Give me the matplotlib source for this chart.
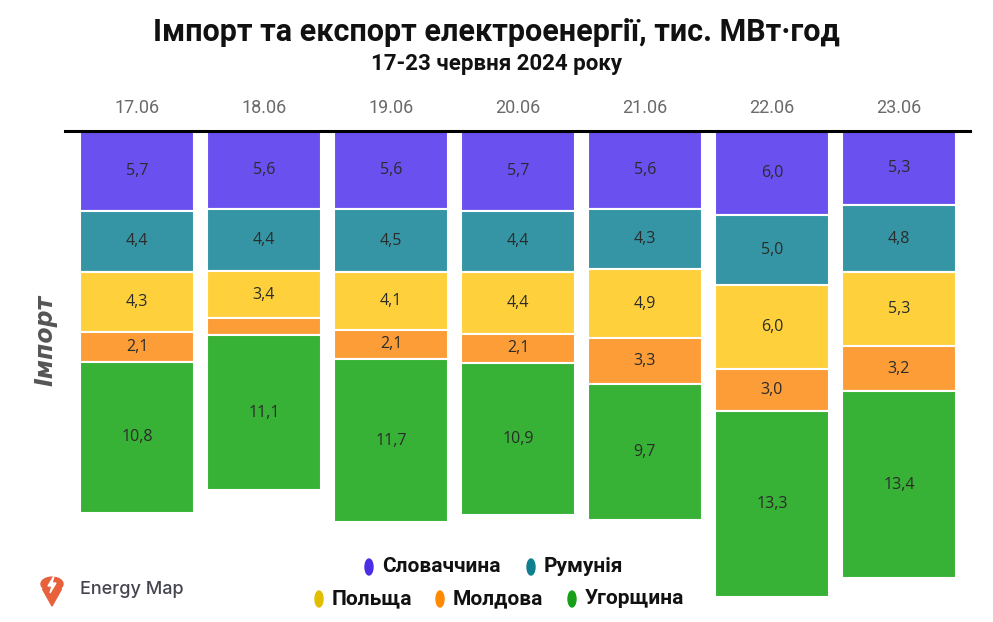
import matplotlib
matplotlib.use("Agg")
import matplotlib.pyplot as plt
from matplotlib.patches import Ellipse, Circle, Polygon

dates = ["17.06", "18.06", "19.06", "20.06", "21.06", "22.06", "23.06"]
countries = ["Словаччина", "Румунія", "Польща", "Молдова", "Угорщина"]
slovakia = [5.7, 5.6, 5.6, 5.7, 5.6, 6.0, 5.3]
romania = [4.4, 4.4, 4.5, 4.4, 4.3, 5.0, 4.8]
poland = [4.3, 3.4, 4.1, 4.4, 4.9, 6.0, 5.3]
moldova = [2.1, 1.2, 2.1, 2.1, 3.3, 3.0, 3.2]
hungary = [10.8, 11.1, 11.7, 10.9, 9.7, 13.3, 13.4]
series = [slovakia, romania, poland, moldova, hungary]

bar_colors = ["#6a50ef", "#3595a5", "#fed03b", "#fc9d37", "#37b136"]
legend_colors = ["#4a2ee6", "#0f7f8f", "#e3bd00", "#ff8a00", "#17a017"]

cond = "Roboto"
plt.rcParams["font.family"] = ["Open Sans", "DejaVu Sans"]

W, H = 993, 622
fig = plt.figure(figsize=(W / 100, H / 100), dpi=100)
fig.patch.set_facecolor("white")

def fx(px):
    return px / W

def fy(py):
    return 1 - py / H

ax = fig.add_axes([fx(65), fy(619), fx(970 - 65), (619 - 131) / H])
ymax = (619 - 131) / 13.98
ax.set_xlim(-0.567, 6.56)
ax.set_ylim(ymax, 0)
ax.axis("off")

x = list(range(len(dates)))
bottom = [0.0] * len(dates)
for vals, col in zip(series, bar_colors):
    ax.bar(x, vals, bottom=bottom, width=0.9, color=col, edgecolor="white",
           linewidth=1.5, align="center", zorder=2)
    for i, v in enumerate(vals):
        if v >= 1.5:
            ax.text(i, bottom[i] + v / 2, f"{v:.1f}".replace(".", ","),
                    ha="center", va="center", fontsize=11.5, color="#2b2b2b", zorder=3)
    bottom = [b + v for b, v in zip(bottom, vals)]

ax.plot([-0.567, 6.56], [0, 0], color="black", lw=2.2, zorder=4, clip_on=False)
for i, d in enumerate(dates):
    ax.text(i, -1.65, d, ha="center", va="center", fontsize=13, color="#6a6a6a",
            family=[cond, "DejaVu Sans"])

fig.text(0.5, fy(32), "Імпорт та експорт електроенергії, тис. МВт·год",
         ha="center", va="center", fontsize=22, fontweight="bold", color="#111111",
         family=[cond, "DejaVu Sans"])
fig.text(0.5, fy(64), "17-23 червня 2024 року", ha="center", va="center",
         fontsize=16, fontweight="bold", color="#111111", family=[cond, "DejaVu Sans"])

fig.text(fx(45), fy(340), "Імпорт", rotation=90, ha="center", va="center",
         fontsize=17, fontweight="bold", fontstyle="italic", color="#555555",
         family=["DejaVu Sans"])

leg = [(0, 369, 567), (1, 531, 567), (2, 319, 599), (3, 440, 599), (4, 572, 599)]
for idx, mx, my in leg:
    e = Ellipse((fx(mx), fy(my)), width=fx(8), height=16 / H,
                transform=fig.transFigure, color=legend_colors[idx])
    fig.add_artist(e)
    fig.text(fx(mx + 13), fy(my), countries[idx], ha="left", va="center",
             fontsize=15, fontweight="bold", color="#111111",
             family=[cond, "DejaVu Sans"])

# logo pin
circ = Circle((fx(52), fy(584)), radius=fx(11), transform=fig.transFigure,
              color="#e8603c")
fig.add_artist(circ)
tri = Polygon([[fx(42.5), fy(589)], [fx(61.5), fy(589)], [fx(52), fy(606)]],
              closed=True, transform=fig.transFigure, color="#e8603c")
fig.add_artist(tri)
bolt = Polygon([[fx(54), fy(576)], [fx(48), fy(586)], [fx(52), fy(586)],
                [fx(50), fy(593)], [fx(56), fy(583)], [fx(52), fy(583)]],
               closed=True, transform=fig.transFigure, color="white")
fig.add_artist(bolt)
fig.text(fx(80), fy(590), "Energy Map", ha="left", va="center", fontsize=13,
         color="#454550", family=["Inter", "DejaVu Sans"], fontweight="medium")

fig.savefig("out.png", dpi=100, facecolor="white")
